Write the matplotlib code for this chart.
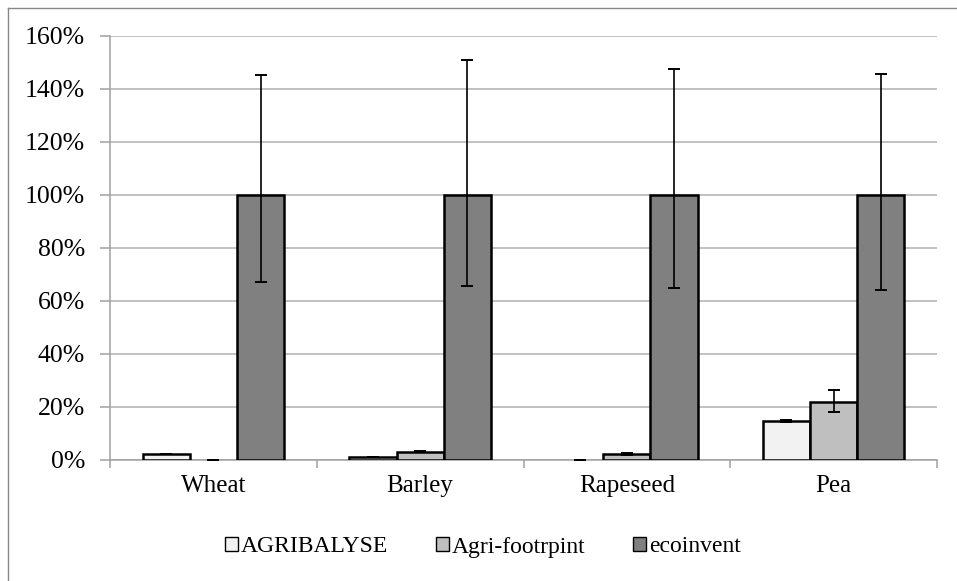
import matplotlib.pyplot as plt
import numpy as np
from matplotlib.lines import Line2D
from matplotlib.ticker import FuncFormatter, MultipleLocator

plt.rcParams["font.family"] = ["Liberation Serif", "DejaVu Serif"]

# data (percent, relative to ecoinvent)
crops = ["Wheat", "Barley", "Rapeseed", "Pea"]
series = ["AGRIBALYSE", "Agri-footrpint", "ecoinvent"]
agribalyse = [2.0, 1.1, 0.0, 14.4]
agribalyse_lo = [0.0, 0.0, 0.0, 0.4]
agribalyse_hi = [0.0, 0.0, 0.0, 0.4]
agrifootprint = [0.0, 3.0, 2.0, 21.7]
agrifootprint_lo = [0.0, 0.3, 0.3, 3.6]
agrifootprint_hi = [0.0, 0.3, 0.3, 4.6]
ecoinvent = [100.0, 100.0, 100.0, 100.0]
ecoinvent_lo = [32.9, 34.6, 35.3, 36.0]
ecoinvent_hi = [45.4, 51.0, 47.5, 45.8]

colors = ["#F2F2F2", "#BFBFBF", "#808080"]

W, H = 957, 581
fig = plt.figure(figsize=(W / 100, H / 100), dpi=100)
ax = fig.add_axes([110 / W, 1 - 459.5 / H, 827 / W, 423.5 / H])

x = np.arange(len(crops))
bw = 0.228
vals = [agribalyse, agrifootprint, ecoinvent]
los = [agribalyse_lo, agrifootprint_lo, ecoinvent_lo]
his = [agribalyse_hi, agrifootprint_hi, ecoinvent_hi]
for i, (v, lo, hi) in enumerate(zip(vals, los, his)):
    pos = x + (i - 1) * bw
    lw = [1.8 if val > 0 else 0 for val in v]
    ax.bar(pos, v, bw, color=colors[i], edgecolor="black", linewidth=lw,
           zorder=3)
    ax.errorbar(pos, v, yerr=[lo, hi], fmt="none", ecolor="black",
                elinewidth=1.2, capsize=4.5, capthick=1.4, zorder=4)

ax.set_xlim(-0.5, len(crops) - 0.5)
ax.set_ylim(0, 160)
ax.yaxis.set_major_locator(MultipleLocator(20))
ax.yaxis.set_major_formatter(FuncFormatter(lambda v, p: f"{v:.0f}%"))
ax.grid(axis="y", color="#B0B0B0", linewidth=1.1, zorder=0)

ax.set_xticks(x)
ax.set_xticklabels(crops)
ax.set_xticks(np.arange(len(crops) + 1) - 0.5, minor=True)
ax.tick_params(axis="x", which="major", length=0, pad=11, labelsize=18)
ax.tick_params(axis="x", which="minor", length=6, color="#A0A0A0",
               width=1.1)
ax.tick_params(axis="y", length=7, color="#A0A0A0", width=1.1, pad=11,
               labelsize=18.5)

for s in ["top", "right"]:
    ax.spines[s].set_visible(False)
for s in ["left", "bottom"]:
    ax.spines[s].set_color("#A0A0A0")
    ax.spines[s].set_linewidth(1.1)

handles = [plt.Rectangle((0, 0), 1, 1, facecolor=c, edgecolor="black",
                         linewidth=1.0) for c in colors]
fig.legend(handles, series, loc="center", bbox_to_anchor=(483 / W, 1 - 547 / H),
           ncol=3, frameon=False, fontsize=17, handlelength=0.55,
           handleheight=0.55, handletextpad=0.15, columnspacing=2.0)

# chart area border (left and top visible)
fig.add_artist(Line2D([8 / W, 8 / W], [0, 1 - 8 / H], transform=fig.transFigure,
                      color="#888888", linewidth=1.0))
fig.add_artist(Line2D([8 / W, 1], [1 - 8 / H, 1 - 8 / H], transform=fig.transFigure,
                      color="#888888", linewidth=1.0))

fig.savefig("out.png", dpi=100)
